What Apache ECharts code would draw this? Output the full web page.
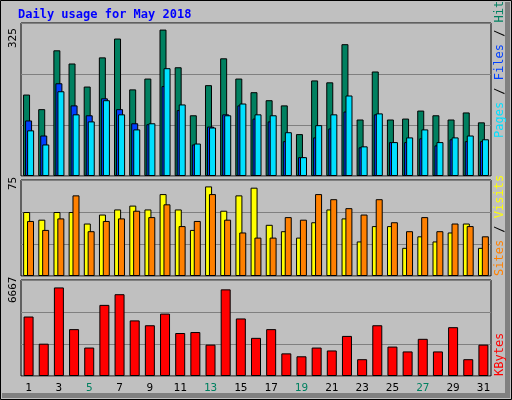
<!DOCTYPE html>
<html><head><meta charset="utf-8">
<script src="https://cdn.jsdelivr.net/npm/echarts@6/dist/echarts.min.js"></script>
<style>html,body{margin:0;padding:0;background:#C0C0C0}#c{width:512px;height:400px}</style>
</head><body><div id="c"></div>
<script>
const days = ['1','2','3','4','5','6','7','8','9','10','11','12','13','14','15','16','17','18','19','20','21','22','23','24','25','26','27','28','29','30','31'];
const weekend = ['5','6','12','13','19','20','26','27'];
const hits = [173,142,267,239,190,252,292,184,207,311,231,129,193,250,207,178,161,150,89,203,199,280,120,222,120,122,139,129,120,135,114];
const files = [118,86,197,150,129,165,142,112,110,191,140,67,105,131,150,122,116,74,40,82,101,137,61,131,72,72,80,65,78,74,74];
const pages = [97,67,180,131,116,161,131,99,112,229,152,69,103,129,154,131,129,93,40,108,131,171,63,133,72,82,99,72,82,86,78];
const visits = [50,44,50,50,41,48,52,55,52,64,52,36,70,51,63,69,40,35,30,42,52,45,27,39,39,22,31,27,34,41,22];
const sites = [43,36,45,63,35,43,45,51,46,56,39,43,64,44,34,30,30,46,44,64,60,53,48,60,42,35,46,35,41,39,31];
const kbytes = [4131,2245,6151,3255,1976,4939,5680,3861,3525,4333,2986,3053,2178,6017,3996,2649,3255,1572,1369,1976,1774,2784,1167,3525,2043,1706,2582,1706,3390,1167,2178];
const maxLabels = ['325','75','6667'];
const maxVals = [325,75,6667];

const font = 'DejaVu Sans Mono';
const grids = [
  {left:21,right:21,top:23,height:153},
  {left:21,right:21,top:180,height:96},
  {left:21,right:21,top:280,height:96}
].map(g=>Object.assign(g,{show:true,backgroundColor:'#C0C0C0',borderColor:'#000',borderWidth:1}));
const xAxes = [0,1,2].map(i=>({type:'category',gridIndex:i,data:days,
  axisLine:{show:false},axisTick:{show:false},
  axisLabel:{show:i===2,fontFamily:font,fontSize:11,margin:7,
    color:(v)=>weekend.includes(v)?'#008060':'#000'}}));
const yAxes = maxVals.map((m,i)=>({type:'value',gridIndex:i,min:0,max:m,interval:m/3,
  axisLabel:{show:false},axisLine:{show:false},axisTick:{show:false},
  splitLine:{lineStyle:{color:'#808080',width:1}}}));
const bs = (c)=>({color:c,borderColor:'#000',borderWidth:1});
const series = [
  {type:'bar',xAxisIndex:0,yAxisIndex:0,data:hits,barWidth:7,barGap:'-71%',itemStyle:bs('#008060')},
  {type:'bar',xAxisIndex:0,yAxisIndex:0,data:files,barWidth:7,barGap:'-71%',itemStyle:bs('#0040FF')},
  {type:'bar',xAxisIndex:0,yAxisIndex:0,data:pages,barWidth:7,barGap:'-71%',itemStyle:bs('#00E0FF')},
  {type:'bar',xAxisIndex:1,yAxisIndex:1,data:visits,barWidth:7,barGap:'-45%',itemStyle:bs('#FFFF00')},
  {type:'bar',xAxisIndex:1,yAxisIndex:1,data:sites,barWidth:7,barGap:'-45%',itemStyle:bs('#FF8000')},
  {type:'bar',xAxisIndex:2,yAxisIndex:2,data:kbytes,barWidth:10,itemStyle:bs('#FF0000')}
];
const vtext = (x,y,rich,str)=>({type:'text',x:x,y:y,rotation:Math.PI/2,
  style:{text:str,rich:rich,font:'12px '+font,align:'left',verticalAlign:'middle'}});
const graphic = [
  {type:'rect',shape:{x:0.5,y:0.5,width:511,height:399},style:{fill:'none',stroke:'#000',lineWidth:1}},
  {type:'rect',shape:{x:505,y:2,width:5,height:396},style:{fill:'#808080'}},
  {type:'rect',shape:{x:2,y:393,width:508,height:5},style:{fill:'#808080'}},
  {type:'text',x:18,y:9,style:{text:'Daily usage for May 2018',fill:'#0000FF',font:'bold 12px '+font}},
  vtext(13,48,null,maxLabels[0]), vtext(13,190,null,maxLabels[1]), vtext(13,303,null,maxLabels[2]),
  vtext(500,138,{p:{fill:'#00E0FF'},s:{fill:'#000'},f:{fill:'#0040FF'},h:{fill:'#008060'}},'{p|Pages}{s| / }{f|Files}{s| / }{h|Hits}'),
  vtext(500,276,{v:{fill:'#FF8000'},s:{fill:'#000'},y:{fill:'#FFFF00'}},'{v|Sites}{s| / }{y|Visits}'),
  vtext(500,376,{k:{fill:'#FF0000'}},'{k|KBytes}')
];
graphic.slice(4,7).forEach(g=>{g.style.fill='#000';g.style.align='right';g.style.font='11px '+font;});
graphic.slice(4,7).forEach(g=>{g.style.align='left';g.y=g.y;});
const chart = echarts.init(document.getElementById('c'));
chart.setOption({animation:false,backgroundColor:'#C0C0C0',grid:grids,xAxis:xAxes,yAxis:yAxes,series:series,graphic:graphic});
</script></body></html>
